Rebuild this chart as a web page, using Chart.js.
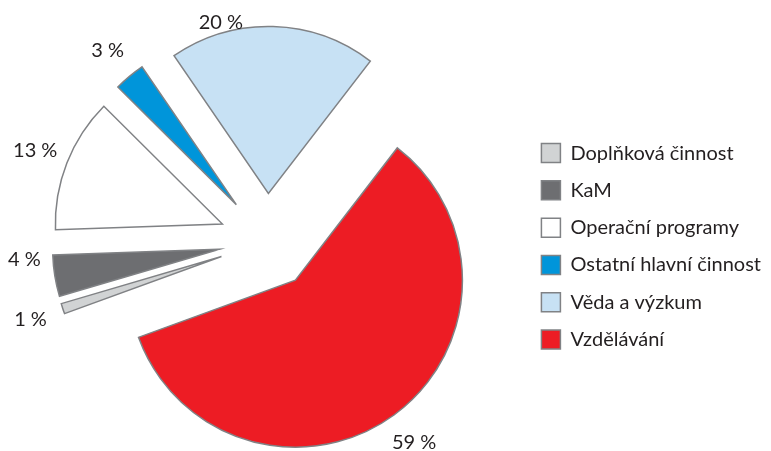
<!DOCTYPE html>
<html>
<head>
<meta charset="utf-8">
<script src="https://cdn.jsdelivr.net/npm/chart.js"></script>
<style>
  html, body { margin: 0; padding: 0; background: #fff; }
  #wrap { width: 771px; height: 451px; }
</style>
</head>
<body>
<div id="wrap"><canvas id="mycanvas"></canvas></div>
<script>
var categories = ['Doplňková činnost', 'KaM', 'Operační programy', 'Ostatní hlavní činnost', 'Věda a výzkum', 'Vzdělávání'];
var shares = [1, 4, 13, 3, 20, 59];
var sliceColors = ['#d1d3d4', '#6d6e71', '#ffffff', '#0095da', '#c7e1f4', '#ed1c24'];

var explode = 48;   // how far every slice is pulled out of the centre, px
var textFont = '20px Lato';
var textColor = '#231f20';

// push each arc out along its middle angle (same distance for all slices)
var explodeSlices = {
  id: 'explodeSlices',
  afterDatasetsUpdate: function(chart) {
    chart.getDatasetMeta(0).data.forEach(function(arc) {
      var mid = (arc.startAngle + arc.endAngle) / 2;
      arc.x += Math.cos(mid) * explode;
      arc.y += Math.sin(mid) * explode;
    });
  }
};

var pctLabels = {
  id: 'pctLabels',
  afterDatasetsDraw: function(chart) {
    var ctx = chart.ctx;
    var meta = chart.getDatasetMeta(0);
    var top = 23;
    ctx.save();
    ctx.font = textFont;
    var pos = meta.data.map(function(arc, i) {
      var mid = (arc.startAngle + arc.endAngle) / 2;
      var r = arc.outerRadius + 34;
      var x = arc.x + Math.cos(mid) * r;
      var y = arc.y + Math.sin(mid) * r;
      if (y < top) {
        // no room above: slide it along just outside the arc
        var r2 = arc.outerRadius + 10;
        var a = -Math.PI - Math.asin((top - arc.y) / r2);
        x = arc.x + Math.cos(a) * r2;
        y = top;
      }
      var half = ctx.measureText(shares[i] + ' %').width / 2;
      x = Math.max(x, half + 8);
      return {x: x, y: y, cx: arc.x};
    });
    // keep neighbouring labels on the left apart
    for (var i = 1; i < pos.length; i++) {
      var p0 = pos[i - 1], p1 = pos[i];
      if (p1.x < p1.cx && Math.abs(p1.x - p0.x) < 50 && p1.y < p0.y && p0.y - p1.y < 60) {
        p1.y = p0.y - 60;
      }
    }
    ctx.fillStyle = textColor;
    ctx.textAlign = 'center';
    ctx.textBaseline = 'middle';
    pos.forEach(function(q, i) {
      ctx.fillText(shares[i] + ' %', q.x, q.y);
    });
    ctx.restore();
  }
};

var chartdata = {
  labels: categories,
  datasets: [{
    data: shares,
    backgroundColor: sliceColors,
    borderColor: '#808285',
    borderWidth: 1.5,
    borderJoinStyle: 'miter',
    hoverOffset: 0
  }]
};

var pieChart = new Chart(document.getElementById('mycanvas'), {
  type: 'pie',
  data: chartdata,
  plugins: [explodeSlices, pctLabels],
  options: {
    responsive: true,
    maintainAspectRatio: false,
    animation: false,
    events: [],
    rotation: 250,
    radius: 167,
    layout: { padding: { top: 32, bottom: 0, left: 10, right: 0 } },
    plugins: {
      tooltip: { enabled: false },
      legend: {
        position: 'right',
        align: 'center',
        // empty title only nudges the list down a little
        title: { display: true, text: '', font: { size: 8 }, padding: 0 },
        labels: {
          font: { family: 'Lato', size: 20 },
          color: textColor,
          boxWidth: 19,
          boxHeight: 19,
          padding: 17.3
        }
      }
    }
  }
});
</script>
</body>
</html>
